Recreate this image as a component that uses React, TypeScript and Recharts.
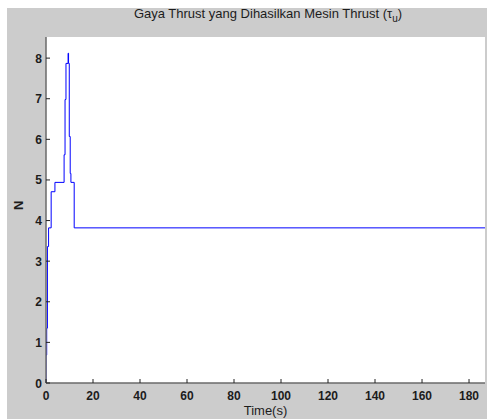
import React from "react";
import { LineChart, Line, XAxis, YAxis, CartesianGrid } from "recharts";

const timeValues = [0, 0, 0.3, 0.6, 1.1, 2.2, 3.8, 7.7, 8.1, 8.5, 9.4, 9.6, 9.9, 10.3, 10.6, 12.0, 186.8];
const thrustValues = [0, 0.69, 1.35, 3.36, 3.82, 4.71, 4.94, 5.62, 6.98, 7.87, 8.12, 7.87, 6.07, 5.16, 4.94, 3.82, 3.82];
const xTicks = [0, 20, 40, 60, 80, 100, 120, 140, 160, 180];
const yTicks = [0, 1, 2, 3, 4, 5, 6, 7, 8];

const data = timeValues.map((t, i) => ({ t, thrust: thrustValues[i] }));

const FONT = "Arial, 'Liberation Sans', sans-serif";
const TXT = "#1c1c1c";

const YTick = (props: any) => {
  const { x, y, payload } = props;
  return (
    <g>
      <line x1={x} y1={y} x2={x + 4} y2={y} stroke="#222" strokeWidth={1} />
      <text x={x - 4} y={y} dy={4.5} textAnchor="end" fontSize={12} fontWeight="bold" fontFamily={FONT} fill={TXT}>
        {payload.value}
      </text>
    </g>
  );
};

const XTick = (props: any) => {
  const { x, y, payload } = props;
  return (
    <g>
      <line x1={x} y1={y} x2={x} y2={y - 4} stroke="#222" strokeWidth={1} />
      <text x={x} y={y + 17} textAnchor="middle" fontSize={12} fontWeight="bold" fontFamily={FONT} fill={TXT}>
        {payload.value}
      </text>
    </g>
  );
};

export default function App() {
  return (
    <div style={{ position: "absolute", left: 0, top: 0, width: 487, height: 419, background: "#fff", overflow: "hidden" }}>
      <div style={{ position: "absolute", left: 7, top: 8, width: 480, height: 411, background: "#cccccc" }} />
      <div
        style={{
          position: "absolute",
          left: 0,
          top: 6,
          width: 536,
          textAlign: "center",
          fontFamily: FONT,
          fontSize: 13,
          color: TXT,
          lineHeight: "16px",
        }}
      >
        Gaya Thrust yang Dihasilkan Mesin Thrust (τ<sub style={{ fontSize: 10 }}>u</sub>)
      </div>
      <div style={{ position: "absolute", left: 0, top: 0 }}>
        <LineChart width={487} height={419} data={data} margin={{ top: 37, right: 2, bottom: 6, left: 16 }}>
          <CartesianGrid horizontal={false} vertical={false} fill="#ffffff" />
          <XAxis
            dataKey="t"
            type="number"
            domain={[0, 186.8]}
            ticks={xTicks}
            allowDataOverflow
            height={30}
            tickSize={0}
            tickMargin={0}
            tick={<XTick />}
            axisLine={{ stroke: "#6a6a6a", strokeWidth: 1.5 }}
            label={{ value: "Time(s)", position: "insideBottom", offset: -2, fontSize: 13, fontFamily: FONT, fill: TXT }}
          />
          <YAxis
            type="number"
            domain={[0, 8.52]}
            ticks={yTicks}
            allowDataOverflow
            width={30}
            tickSize={0}
            tickMargin={0}
            tick={<YTick />}
            axisLine={{ stroke: "#6a6a6a", strokeWidth: 1.5 }}
            label={{ value: "N", angle: -90, position: "insideLeft", offset: 2, fontSize: 13, fontWeight: "bold", fontFamily: FONT, fill: TXT }}
          />
          <Line
            type="stepAfter"
            dataKey="thrust"
            stroke="#0000ff"
            strokeWidth={1}
            dot={false}
            isAnimationActive={false}
          />
        </LineChart>
      </div>
    </div>
  );
}
